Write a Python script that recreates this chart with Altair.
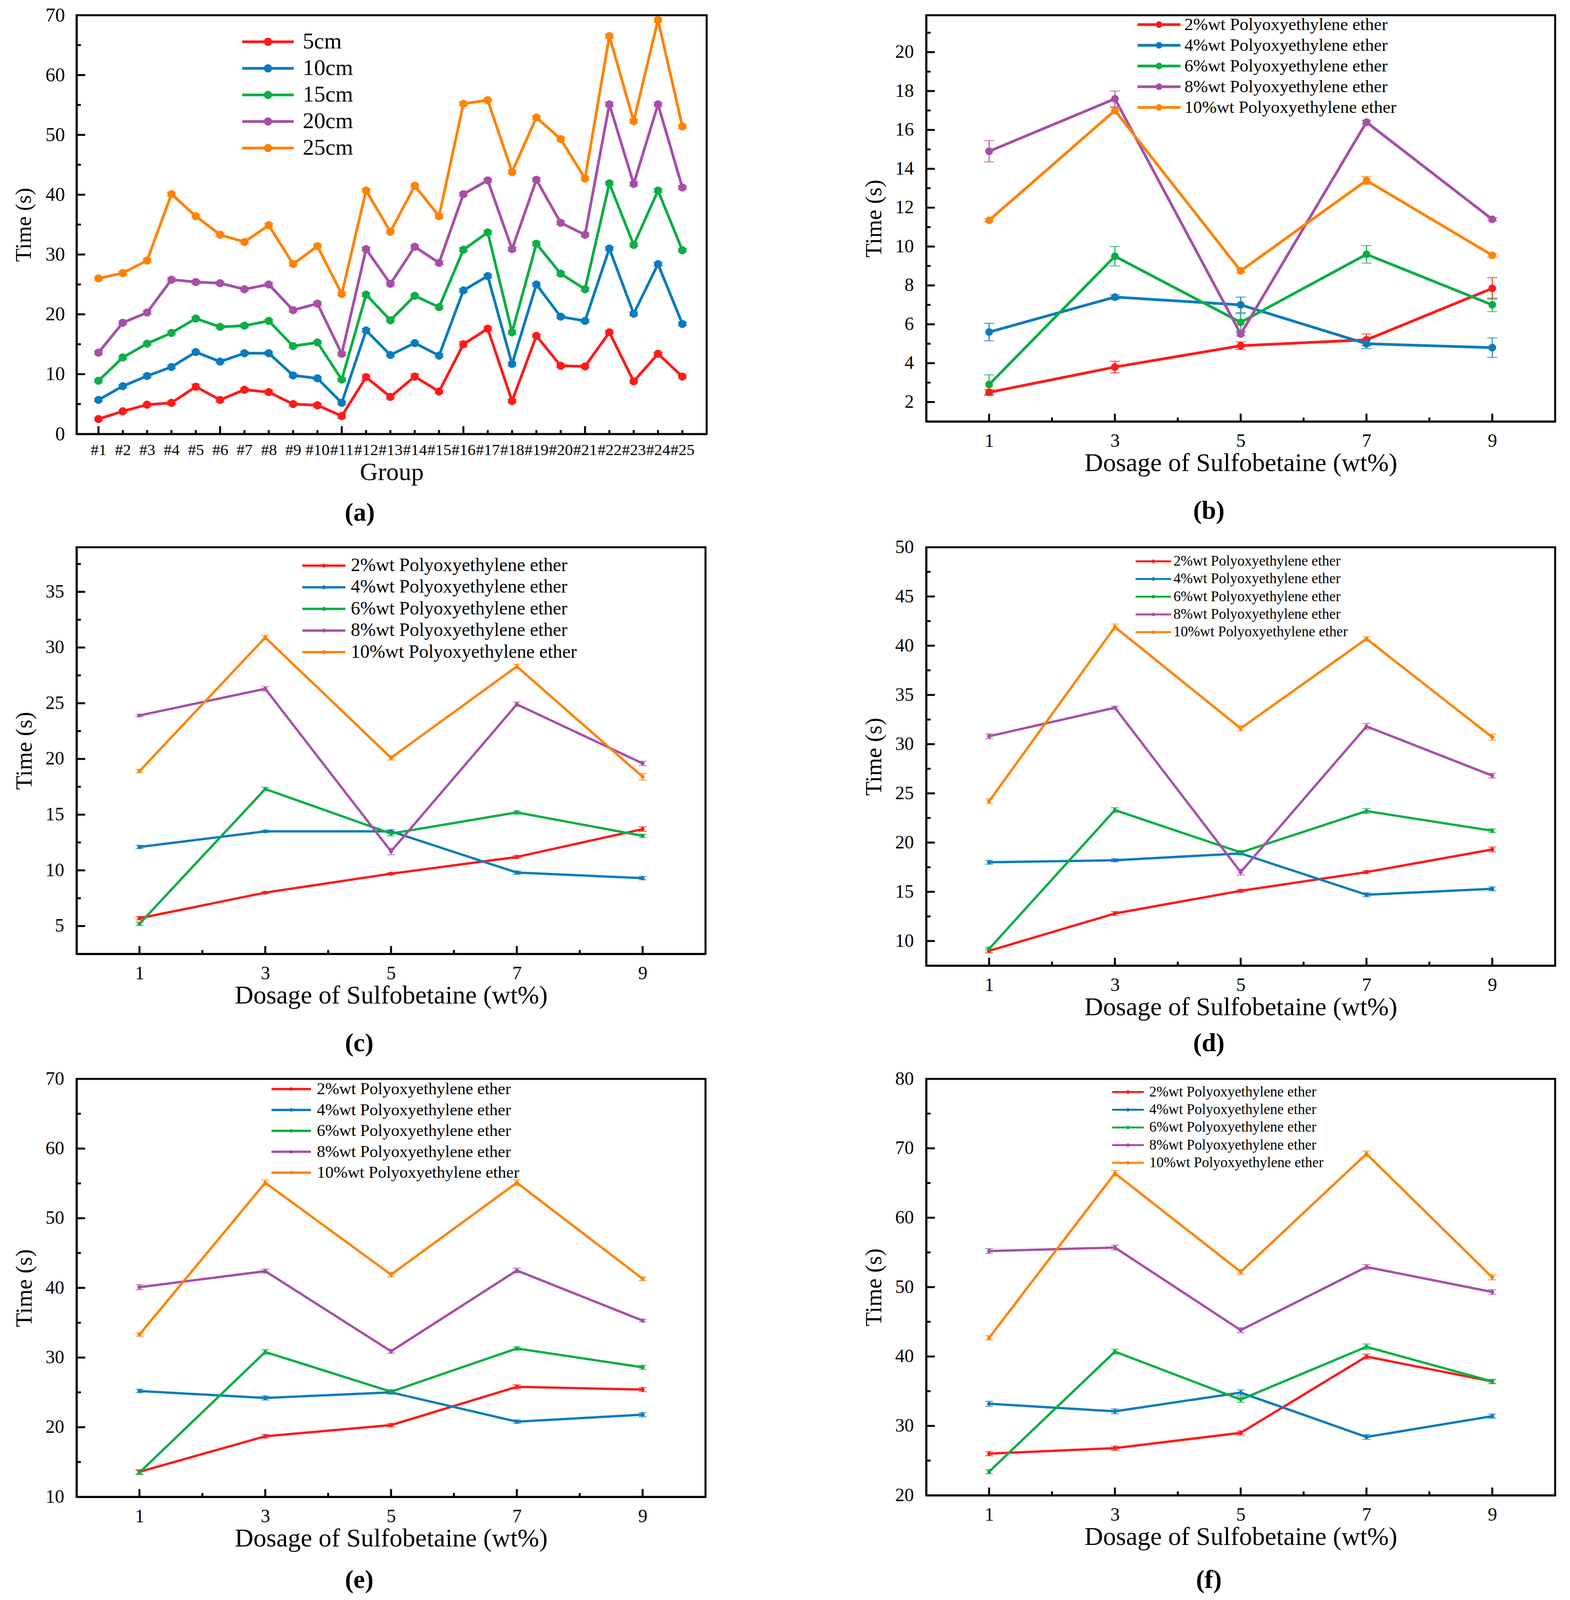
import altair as alt
import pandas as pd

FONT = "Liberation Serif"
COLORS = ["#FF1A1A", "#0A7BBD", "#0CAE45", "#A64FA8", "#FF8202"]

# ---------------- Panel (a) data ----------------
groups = list(range(1, 26))
a_series = ["5cm", "10cm", "15cm", "20cm", "25cm"]
a_5cm = [2.5, 3.8, 4.9, 5.2, 7.9, 5.7, 7.4, 7.0, 5.0, 4.8, 3.0, 9.5, 6.2, 9.6, 7.1, 15.0, 17.6, 5.5, 16.4, 11.4, 11.3, 17.0, 8.8, 13.4, 9.6]
a_10cm = [5.7, 8.0, 9.7, 11.2, 13.7, 12.1, 13.5, 13.5, 9.8, 9.3, 5.2, 17.3, 13.2, 15.2, 13.1, 24.0, 26.4, 11.7, 25.0, 19.6, 18.9, 31.0, 20.1, 28.4, 18.4]
a_15cm = [8.9, 12.8, 15.1, 16.9, 19.3, 17.9, 18.1, 18.9, 14.7, 15.3, 9.1, 23.3, 19.0, 23.1, 21.2, 30.8, 33.7, 17.0, 31.8, 26.8, 24.2, 41.9, 31.6, 40.7, 30.7]
a_20cm = [13.6, 18.6, 20.3, 25.8, 25.4, 25.2, 24.2, 25.0, 20.7, 21.8, 13.4, 30.9, 25.1, 31.3, 28.6, 40.1, 42.4, 30.9, 42.5, 35.3, 33.3, 55.1, 41.8, 55.1, 41.2]
a_25cm = [26.0, 26.9, 29.0, 40.1, 36.4, 33.3, 32.1, 34.9, 28.4, 31.4, 23.4, 40.7, 33.8, 41.5, 36.4, 55.2, 55.8, 43.8, 52.9, 49.3, 42.7, 66.5, 52.3, 69.2, 51.4]
a_err_5cm = [0.25, 0.25, 0.25, 0.3, 0.45, 0.4, 0.25, 0.3, 0.25, 0.35, 0.4, 0.45, 0.35, 0.45, 0.3, 0.45, 0.35, 0.25, 0.25, 0.25, 0.25, 0.25, 0.25, 0.25, 0.25]
a_err_10cm = [0.25, 0.25, 0.25, 0.25, 0.25, 0.25, 0.25, 0.25, 0.25, 0.25, 0.25, 0.3, 0.25, 0.25, 0.25, 0.3, 0.3, 0.3, 0.3, 0.25, 0.25, 0.3, 0.3, 0.3, 0.25]
a_err_15cm = [0.25, 0.25, 0.25, 0.25, 0.25, 0.25, 0.25, 0.25, 0.25, 0.25, 0.25, 0.3, 0.25, 0.25, 0.25, 0.3, 0.3, 0.3, 0.3, 0.3, 0.3, 0.3, 0.3, 0.3, 0.3]
a_err_20cm = [0.3, 0.3, 0.3, 0.3, 0.3, 0.3, 0.3, 0.3, 0.3, 0.3, 0.3, 0.3, 0.3, 0.3, 0.3, 0.3, 0.3, 0.3, 0.3, 0.3, 0.3, 0.35, 0.35, 0.35, 0.3]
a_err_25cm = [0.3, 0.3, 0.3, 0.3, 0.3, 0.3, 0.3, 0.3, 0.3, 0.3, 0.3, 0.3, 0.3, 0.3, 0.3, 0.3, 0.3, 0.3, 0.3, 0.3, 0.3, 0.35, 0.35, 0.35, 0.3]

# ---------------- Panels (b)-(f) data ----------------
dosage = [1, 3, 5, 7, 9]
wt_series = ["2%wt Polyoxyethylene ether", "4%wt Polyoxyethylene ether",
             "6%wt Polyoxyethylene ether", "8%wt Polyoxyethylene ether",
             "10%wt Polyoxyethylene ether"]

b_2 = [2.5, 3.8, 4.9, 5.2, 7.85]
b_4 = [5.6, 7.4, 7.0, 5.0, 4.8]
b_6 = [2.9, 9.5, 6.1, 9.6, 7.0]
b_8 = [14.9, 17.6, 5.5, 16.4, 11.4]
b_10 = [11.35, 17.0, 8.75, 13.4, 9.55]
b_err_2 = [0.15, 0.3, 0.2, 0.3, 0.55]
b_err_4 = [0.45, 0.12, 0.4, 0.25, 0.5]
b_err_6 = [0.5, 0.5, 0.45, 0.45, 0.35]
b_err_8 = [0.55, 0.4, 0.1, 0.1, 0.08]
b_err_10 = [0.07, 0.15, 0.1, 0.2, 0.08]

c_2 = [5.7, 8.0, 9.7, 11.2, 13.7]
c_4 = [12.1, 13.5, 13.5, 9.8, 9.3]
c_6 = [5.2, 17.3, 13.3, 15.2, 13.1]
c_8 = [23.9, 26.3, 11.7, 24.9, 19.6]
c_10 = [18.9, 30.9, 20.1, 28.3, 18.4]
c_err_2 = [0.15, 0.1, 0.1, 0.15, 0.2]
c_err_4 = [0.15, 0.1, 0.15, 0.15, 0.15]
c_err_6 = [0.15, 0.15, 0.2, 0.15, 0.15]
c_err_8 = [0.1, 0.2, 0.3, 0.2, 0.2]
c_err_10 = [0.15, 0.2, 0.2, 0.2, 0.3]

d_2 = [9.0, 12.8, 15.1, 17.0, 19.3]
d_4 = [18.0, 18.2, 18.9, 14.7, 15.3]
d_6 = [9.2, 23.3, 19.0, 23.2, 21.2]
d_8 = [30.8, 33.7, 17.0, 31.8, 26.8]
d_10 = [24.2, 41.9, 31.6, 40.7, 30.7]
d_err_2 = [0.2, 0.2, 0.15, 0.15, 0.25]
d_err_4 = [0.2, 0.15, 0.15, 0.2, 0.2]
d_err_6 = [0.2, 0.25, 0.2, 0.25, 0.2]
d_err_8 = [0.25, 0.15, 0.3, 0.3, 0.25]
d_err_10 = [0.25, 0.3, 0.25, 0.2, 0.3]

e_2 = [13.6, 18.7, 20.3, 25.8, 25.4]
e_4 = [25.2, 24.2, 25.0, 20.8, 21.8]
e_6 = [13.5, 30.8, 25.1, 31.3, 28.6]
e_8 = [40.1, 42.4, 30.9, 42.5, 35.3]
e_10 = [33.3, 55.1, 41.9, 55.1, 41.3]
e_err_2 = [0.3, 0.25, 0.25, 0.3, 0.3]
e_err_4 = [0.25, 0.3, 0.25, 0.25, 0.3]
e_err_6 = [0.3, 0.35, 0.3, 0.25, 0.3]
e_err_8 = [0.35, 0.3, 0.3, 0.35, 0.2]
e_err_10 = [0.25, 0.4, 0.35, 0.4, 0.25]

f_2 = [26.0, 26.8, 29.0, 40.0, 36.4]
f_4 = [33.2, 32.1, 34.8, 28.4, 31.4]
f_6 = [23.4, 40.7, 33.8, 41.4, 36.4]
f_8 = [55.2, 55.7, 43.8, 52.9, 49.3]
f_10 = [42.7, 66.4, 52.2, 69.2, 51.4]
f_err_2 = [0.3, 0.3, 0.3, 0.35, 0.3]
f_err_4 = [0.35, 0.35, 0.4, 0.35, 0.3]
f_err_6 = [0.3, 0.35, 0.4, 0.4, 0.3]
f_err_8 = [0.35, 0.35, 0.35, 0.35, 0.35]
f_err_10 = [0.3, 0.4, 0.35, 0.4, 0.35]


def long_df(xs, series, values, errors):
    rows = []
    for s, vals, errs in zip(series, values, errors):
        for x, v, e in zip(xs, vals, errs):
            rows.append({"x": x, "series": s, "y": v, "lo": v - e, "hi": v + e})
    return pd.DataFrame(rows)


def legend_path(h, r, t):
    u = h / 2.5
    rr = r / u
    tt = t / 2.0 / u
    path = (f"M-2.5,{-tt:.4f}H2.5V{tt:.4f}H-2.5Z "
            f"M{rr:.4f},0A{rr:.4f},{rr:.4f},0,1,1,{-rr:.4f},0A{rr:.4f},{rr:.4f},0,1,1,{rr:.4f},0Z")
    size = (2 * u) ** 2
    return path, size


def panel(df, series, p):
    W, H = p["w"], p["h"]
    xscale = alt.Scale(domain=p["xdom"], nice=False, zero=False)
    yscale = alt.Scale(domain=p["ydom"], nice=False, zero=False)
    xaxis_kw = dict(values=p["xvals"], ticks=False, tickSize=0, grid=False,
                    domainColor="black", domainWidth=5,
                    labelFont=FONT, labelFontSize=p["xlfs"], labelColor="black",
                    labelPadding=p["xlp"], labelOverlap=False, labelFlush=False,
                    titleFont=FONT, titleFontSize=p["xtfs"], titleColor="black",
                    titleFontWeight="normal", titlePadding=p["xtp"])
    if "labelExpr" in p:
        xaxis_kw["labelExpr"] = p["labelExpr"]
    xaxis = alt.Axis(**xaxis_kw)
    yaxis = alt.Axis(values=p["yvals"], ticks=False, tickSize=0, grid=False,
                     domainColor="black", domainWidth=5,
                     labelFont=FONT, labelFontSize=p["ylfs"], labelColor="black",
                     labelPadding=p["ylp"], labelOverlap=False, labelFlush=False,
                     titleFont=FONT, titleFontSize=p["ytfs"], titleColor="black",
                     titleFontWeight="normal", titlePadding=p["ytp"])

    def X(f):
        return alt.X(f, type="quantitative", scale=xscale, axis=xaxis, title=p["xtitle"])

    def Y(f):
        return alt.Y(f, type="quantitative", scale=yscale, axis=yaxis, title="Time (s)")

    cscale = alt.Scale(domain=series, range=COLORS)
    col = alt.Color("series:N", scale=cscale, legend=None)
    lg = p["legend"]
    path, size = legend_path(lg["h"], lg["r"], lg["t"])
    S = max(-(-(size ** 0.5) // 1), lg["fs"])
    legX = lg["cx"] - S / 2
    legY = lg["y1"] - S / 2
    col_leg = alt.Color("series:N", scale=cscale,
                        legend=alt.Legend(title=None, orient="none", direction="vertical",
                                          legendX=legX, legendY=legY, padding=0,
                                          symbolType=path, symbolSize=size,
                                          symbolStrokeWidth=0, symbolOpacity=1, symbolOffset=0,
                                          labelFont=FONT, labelFontSize=lg["fs"],
                                          labelColor="black", labelLimit=3000,
                                          labelOffset=lg["tx"] - legX - S,
                                          rowPadding=lg["sp"] - S))

    base = alt.Chart(df)
    # first layer carries the legend (drawn again on top later)
    pts_leg = base.mark_circle(size=p["ms"], opacity=1).encode(x=X("x"), y=Y("y"), color=col_leg)
    lines = base.mark_line(strokeWidth=p["lw"]).encode(x=X("x"), y=Y("y"), color=col)
    err = base.mark_rule(strokeWidth=2.5).encode(x=X("x"), y=Y("lo"), y2="hi", color=col)
    cap_lo = base.mark_tick(orient="horizontal", size=p["cw"], thickness=2.5).encode(
        x=X("x"), y=Y("lo"), color=col)
    cap_hi = base.mark_tick(orient="horizontal", size=p["cw"], thickness=2.5).encode(
        x=X("x"), y=Y("hi"), color=col)
    pts = base.mark_circle(size=p["ms"], opacity=1).encode(x=X("x"), y=Y("y"), color=col)

    def yt(vals, L):
        return alt.Chart(pd.DataFrame({"t": vals})).mark_rule(strokeWidth=5, color="black").encode(
            y=Y("t"), x=alt.value(0), x2=alt.value(L))

    def xt(vals, L):
        return alt.Chart(pd.DataFrame({"t": vals})).mark_rule(strokeWidth=5, color="black").encode(
            x=X("t"), y=alt.value(H), y2=alt.value(H - L))

    layers = [pts_leg, lines, err, cap_lo, cap_hi, pts,
              yt(p["ymaj"], 22), yt(p["ymin"], 11),
              xt(p["xmaj"], 20), xt(p["xmin"], 10)]
    return alt.layer(*layers).properties(
        width=W, height=H,
        title=alt.TitleParams(text=p["cap"], orient="bottom", anchor="middle", frame="bounds",
                              font=FONT, fontSize=66, fontWeight="bold", color="black",
                              offset=p["capoff"]))


df_a = long_df(groups, a_series, [a_5cm, a_10cm, a_15cm, a_20cm, a_25cm],
               [a_err_5cm, a_err_10cm, a_err_15cm, a_err_20cm, a_err_25cm])
df_b = long_df(dosage, wt_series, [b_2, b_4, b_6, b_8, b_10], [b_err_2, b_err_4, b_err_6, b_err_8, b_err_10])
df_c = long_df(dosage, wt_series, [c_2, c_4, c_6, c_8, c_10], [c_err_2, c_err_4, c_err_6, c_err_8, c_err_10])
df_d = long_df(dosage, wt_series, [d_2, d_4, d_6, d_8, d_10], [d_err_2, d_err_4, d_err_6, d_err_8, d_err_10])
df_e = long_df(dosage, wt_series, [e_2, e_4, e_6, e_8, e_10], [e_err_2, e_err_4, e_err_6, e_err_8, e_err_10])
df_f = long_df(dosage, wt_series, [f_2, f_4, f_6, f_8, f_10], [f_err_2, f_err_4, f_err_6, f_err_8, f_err_10])

DOS = "Dosage of Sulfobetaine (wt%)"
common_bf = dict(xdom=[0, 10], xvals=dosage, xmaj=dosage, xmin=[2, 4, 6, 8],
                 xlfs=48, xlp=26, xtfs=66, xtp=0, ylfs=48, ylp=32, ytfs=59, ytp=24,
                 xtitle=DOS, w=1610)

pa = panel(df_a, a_series, dict(
    w=1613, h=1072, xdom=[0.1, 26.0], xvals=groups, labelExpr="'#' + datum.value",
    xmaj=[1, 6, 11, 16, 21], xmin=[g for g in groups if g not in (1, 6, 11, 16, 21)],
    ydom=[0, 70], yvals=list(range(0, 71, 10)), ymaj=list(range(10, 70, 10)),
    ymin=list(range(5, 70, 10)),
    xlfs=41, xlp=21, xtfs=64, xtp=5, ylfs=50, ylp=30, ytfs=56, ytp=26,
    xtitle="Group", lw=7, cw=24, ms=420, cap="(a)", capoff=40,
    legend=dict(h=66, r=10.5, t=7, fs=58, cx=490, tx=579, y1=68, sp=68)))

pb = panel(df_b, wt_series, dict(common_bf,
    h=1040, ydom=[1, 21.9], yvals=list(range(2, 21, 2)), ymaj=list(range(2, 21, 2)),
    ymin=list(range(3, 22, 2)), lw=7, cw=26, ms=380, cap="(b)", capoff=58,
    legend=dict(h=55, r=8.5, t=7, fs=45, cx=596, tx=661, y1=24, sp=52)))

pc = panel(df_c, wt_series, dict(common_bf,
    h=1041, ydom=[2.5, 39], yvals=list(range(5, 36, 5)), ymaj=list(range(5, 36, 5)),
    ymin=[7.5, 12.5, 17.5, 22.5, 27.5, 32.5, 37.5], lw=6, cw=20, ms=100, cap="(c)", capoff=58,
    legend=dict(h=55, r=5, t=6, fs=48, cx=633, tx=702, y1=47, sp=55.4)))

pd_ = panel(df_d, wt_series, dict(common_bf,
    h=1071, ydom=[7.5, 50], yvals=list(range(10, 51, 5)), ymaj=list(range(10, 50, 5)),
    ymin=[12.5, 17.5, 22.5, 27.5, 32.5, 37.5, 42.5, 47.5], lw=6, cw=20, ms=100, cap="(d)", capoff=28,
    legend=dict(h=45.5, r=4.5, t=5, fs=37, cx=581.5, tx=633, y1=36, sp=44.3)))

pe = panel(df_e, wt_series, dict(common_bf,
    h=1070, ydom=[10, 70], yvals=list(range(10, 71, 10)), ymaj=list(range(20, 70, 10)),
    ymin=list(range(15, 70, 10)), lw=6, cw=20, ms=100, cap="(e)", capoff=42,
    legend=dict(h=50.5, r=4.5, t=6, fs=43, cx=549.5, tx=615, y1=26, sp=52.5)))

pf = panel(df_f, wt_series, dict(common_bf,
    h=1066, ydom=[20, 80], yvals=list(range(20, 81, 10)), ymaj=list(range(30, 80, 10)),
    ymin=list(range(25, 80, 10)), lw=6, cw=20, ms=100, cap="(f)", capoff=46,
    legend=dict(h=40.5, r=4.5, t=5, fs=37, cx=516.5, tx=571, y1=33.6, sp=44.3)))

chart = alt.concat(pa, pb, pc, pd_, pe, pf, columns=2,
                   spacing={"row": 290, "column": 562}, bounds="flush").resolve_scale(
    color="independent").resolve_legend(color="independent").properties(
    padding={"left": 22, "top": 3, "right": 10, "bottom": 10},
    background="white",
).configure_view(stroke="black", strokeWidth=5)

chart.save("out.html", embed_options={"renderer": "svg", "actions": False})
